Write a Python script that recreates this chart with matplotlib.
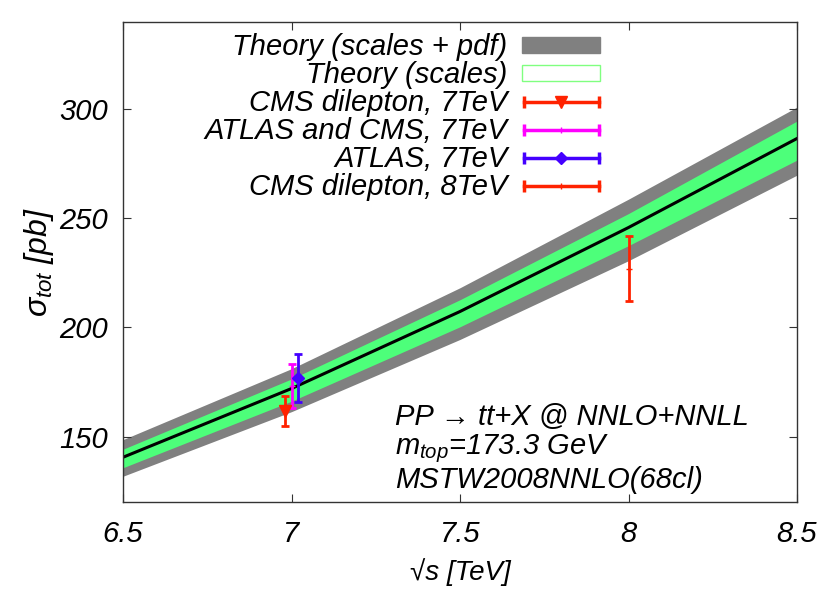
import matplotlib
matplotlib.use("Agg")
import matplotlib.pyplot as plt
from matplotlib.lines import Line2D
from matplotlib.patches import Patch
from matplotlib.legend_handler import HandlerLine2D, HandlerTuple

plt.rcParams['font.family'] = ['Liberation Sans', 'DejaVu Sans']
plt.rcParams['font.style'] = 'italic'
plt.rcParams['mathtext.fontset'] = 'custom'
plt.rcParams['mathtext.it'] = 'Liberation Sans:italic'
plt.rcParams['mathtext.rm'] = 'Liberation Sans:italic'

# theory prediction (pb) vs sqrt(s) (TeV)
sqrt_s = [6.5, 7.0, 7.5, 8.0, 8.5]
central = [140.5, 172.0, 207.3, 245.8, 286.6]
scales_lo = [135.7, 166.2, 200.3, 237.5, 276.7]
scales_hi = [144.2, 176.4, 212.7, 252.2, 294.6]
total_lo = [131.8, 161.4, 194.5, 230.6, 269.8]
total_hi = [148.6, 181.1, 218.2, 258.8, 301.0]

# measurements: x, value, error
cms7_x, cms7_y, cms7_err = [6.98], [161.9], [6.9]
comb7_x, comb7_y, comb7_err = [7.0], [173.3], [10.1]
atlas7_x, atlas7_y, atlas7_err = [7.02], [177.0], [11.0]
cms8_x, cms8_y, cms8_err = [8.0], [227.0], [15.0]

red = '#ff2200'
magenta = '#ff00ff'
blue = '#4400ff'
green = '#4dff7a'
grey = '#808080'

fig = plt.figure(figsize=(8.23, 5.93), dpi=100)
ax = fig.add_axes([0.1495, 0.1535, 0.8189, 0.8094])

ax.fill_between(sqrt_s, total_lo, total_hi, color=grey, lw=0)
ax.fill_between(sqrt_s, scales_lo, scales_hi, color=green, lw=0)
ax.plot(sqrt_s, central, color='black', lw=2.2)

eb = dict(capsize=3, elinewidth=2, capthick=2, lw=0)
ax.errorbar(cms7_x, cms7_y, yerr=cms7_err, color=red, marker='v', ms=8, **eb)
ax.errorbar(comb7_x, comb7_y, yerr=comb7_err, color=magenta, marker='+', ms=4, **eb)
ax.errorbar(atlas7_x, atlas7_y, yerr=atlas7_err, color=blue, marker='D', ms=6, **eb)
ax.errorbar(cms8_x, cms8_y, yerr=cms8_err, color=red, marker='+', ms=4, **eb)

ax.set_xlim(6.5, 8.5)
ax.set_ylim(120, 340)
ax.set_xticks([6.5, 7, 7.5, 8, 8.5])
ax.set_xticklabels(['6.5', '7', '7.5', '8', '8.5'])
ax.set_yticks([150, 200, 250, 300])
ax.tick_params(direction='in', length=6, width=0.8, top=True, right=True,
               labelsize=21, color='#333333')
ax.tick_params(axis='x', pad=13)
ax.tick_params(axis='y', pad=11)
for sp in ax.spines.values():
    sp.set_color('#333333')
    sp.set_linewidth(1.0)

ax.set_xlabel('√s [TeV]', fontsize=20, labelpad=7)
ax.set_ylabel(r'$\sigma_{tot}$ [pb]', fontsize=23, labelpad=2)

ax.text(0.4036, 0.160, 'PP → tt+X @ NNLO+NNLL', transform=ax.transAxes, fontsize=21)
ax.text(0.4036, 0.100, r'$m_{top}$=173.3 GeV', transform=ax.transAxes, fontsize=21)
ax.text(0.4036, 0.030, 'MSTW2008NNLO(68cl)', transform=ax.transAxes, fontsize=21)

# legend: gnuplot style, text on the left, sample with end caps on the right
def bar_handle(color, marker, ms):
    caps = Line2D([], [], color=color, lw=2.5, marker='|', ms=8, mew=2.5)
    mark = Line2D([], [], color=color, lw=0, marker=marker, ms=ms)
    return (caps, mark)

bars = [bar_handle(red, 'v', 8), bar_handle(magenta, '+', 4),
        bar_handle(blue, 'D', 6), bar_handle(red, '+', 4)]
handles = [Patch(facecolor=grey, edgecolor=grey),
           Patch(facecolor='white', edgecolor='#80ff80')] + bars
hmap = {b[0]: HandlerLine2D(numpoints=2, marker_pad=0.05) for b in bars}
hmap[tuple] = HandlerTuple(ndivide=1, pad=0)
labels = ['Theory (scales + pdf)', 'Theory (scales)', 'CMS dilepton, 7TeV',
          'ATLAS and CMS, 7TeV', 'ATLAS, 7TeV', 'CMS dilepton, 8TeV']
ax.legend(handles, labels, loc='upper right', bbox_to_anchor=(0.7077, 0.977),
          markerfirst=False, frameon=False, fontsize=21, handlelength=2.67,
          handleheight=0.48, labelspacing=0.0, handletextpad=0.5,
          borderpad=0, borderaxespad=0, handler_map=hmap)

fig.savefig('out.png', dpi=100)
